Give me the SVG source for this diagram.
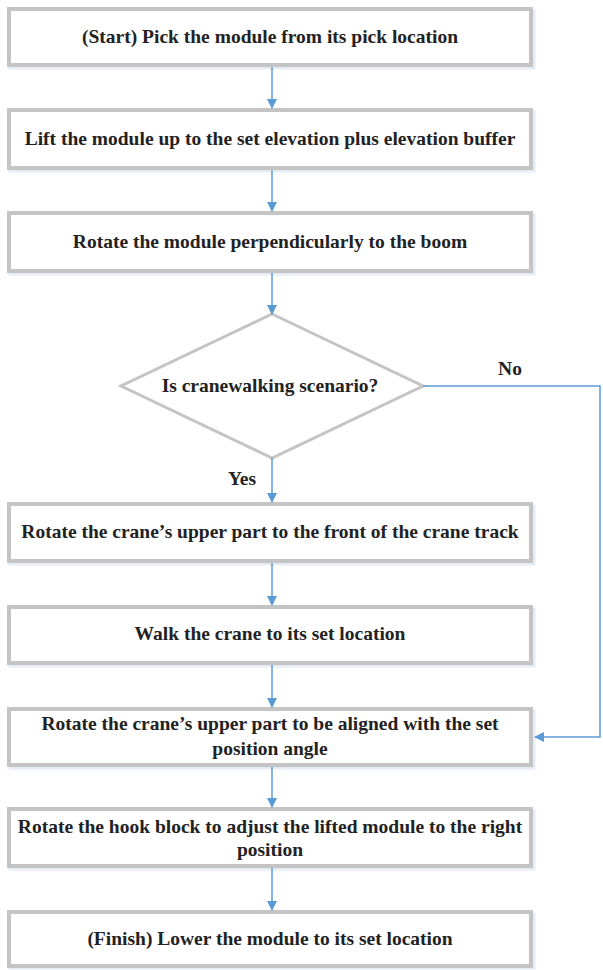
<svg xmlns="http://www.w3.org/2000/svg" width="603" height="970" viewBox="0 0 603 970">
<style>
.box{fill:#fff;stroke:#c4c4c4;stroke-width:4}
.sh{fill:none;stroke:#e6ecf3;stroke-width:3}
.t{font-family:'Liberation Serif','Times New Roman','DejaVu Serif',serif;font-weight:bold;font-size:19.5px;fill:#222;text-anchor:middle}
.c{fill:none;stroke:#5b9bd5;stroke-width:1.5}
</style>
<defs>
<marker id="ah" markerWidth="10" markerHeight="10" refX="9" refY="5" orient="auto" markerUnits="userSpaceOnUse">
<path d="M0,0 L10,5 L0,10 Z" fill="#5b9bd5"/>
</marker>
</defs>
<rect width="603" height="970" fill="#fff"/>
<g id="n1"><rect class="sh" x="10" y="11" width="524" height="57"/><rect class="box" x="9" y="9" width="522" height="56"/><text class="t" x="270" y="43">(Start) Pick the module from its pick location</text></g>
<g id="n2"><rect class="sh" x="10" y="112" width="524" height="59"/><rect class="box" x="9" y="110" width="522" height="58"/><text class="t" x="270" y="145">Lift the module up to the set elevation plus elevation buffer</text></g>
<g id="n3"><rect class="sh" x="10" y="215" width="524" height="59"/><rect class="box" x="9" y="213" width="522" height="58"/><text class="t" x="270" y="248">Rotate the module perpendicularly to the boom</text></g>
<g id="n4"><polygon points="272,314 423,386 272,458 121,386" fill="#fff" stroke="#c4c4c4" stroke-width="3"/><text class="t" x="270" y="392">Is cranewalking scenario?</text></g>
<g id="n5"><rect class="sh" x="10" y="506" width="524" height="58"/><rect class="box" x="9" y="504" width="522" height="57"/><text class="t" x="270" y="538">Rotate the crane’s upper part to the front of the crane track</text></g>
<g id="n6"><rect class="sh" x="10" y="609" width="524" height="57"/><rect class="box" x="9" y="607" width="522" height="56"/><text class="t" x="270" y="640">Walk the crane to its set location</text></g>
<g id="n7"><rect class="sh" x="10" y="711" width="524" height="57"/><rect class="box" x="9" y="709" width="522" height="56"/><text class="t" x="270" y="730">Rotate the crane’s upper part to be aligned with the set</text><text class="t" x="270" y="755">position angle</text></g>
<g id="n8"><rect class="sh" x="10" y="811" width="524" height="58"/><rect class="box" x="9" y="809" width="522" height="57"/><text class="t" x="270" y="833">Rotate the hook block to adjust the lifted module to the right</text><text class="t" x="270" y="856">position</text></g>
<g id="n9"><rect class="sh" x="10" y="914" width="524" height="54"/><rect class="box" x="9" y="912" width="522" height="54"/><text class="t" x="270" y="945">(Finish) Lower the module to its set location</text></g>
<g id="labels"><text class="t" x="510" y="375">No</text><text class="t" x="242" y="485">Yes</text></g>
<g id="connectors">
<line class="c" x1="272" y1="67" x2="272" y2="108" marker-end="url(#ah)"/>
<line class="c" x1="272" y1="170" x2="272" y2="211" marker-end="url(#ah)"/>
<line class="c" x1="272" y1="273" x2="272" y2="314" marker-end="url(#ah)"/>
<line class="c" x1="272" y1="458" x2="272" y2="502" marker-end="url(#ah)"/>
<line class="c" x1="272" y1="563" x2="272" y2="605" marker-end="url(#ah)"/>
<line class="c" x1="272" y1="665" x2="272" y2="707" marker-end="url(#ah)"/>
<line class="c" x1="272" y1="767" x2="272" y2="807" marker-end="url(#ah)"/>
<line class="c" x1="272" y1="868" x2="272" y2="910" marker-end="url(#ah)"/>
<polyline class="c" points="423,386 600,386 600,737 535,737" marker-end="url(#ah)"/>
</g>
</svg>
